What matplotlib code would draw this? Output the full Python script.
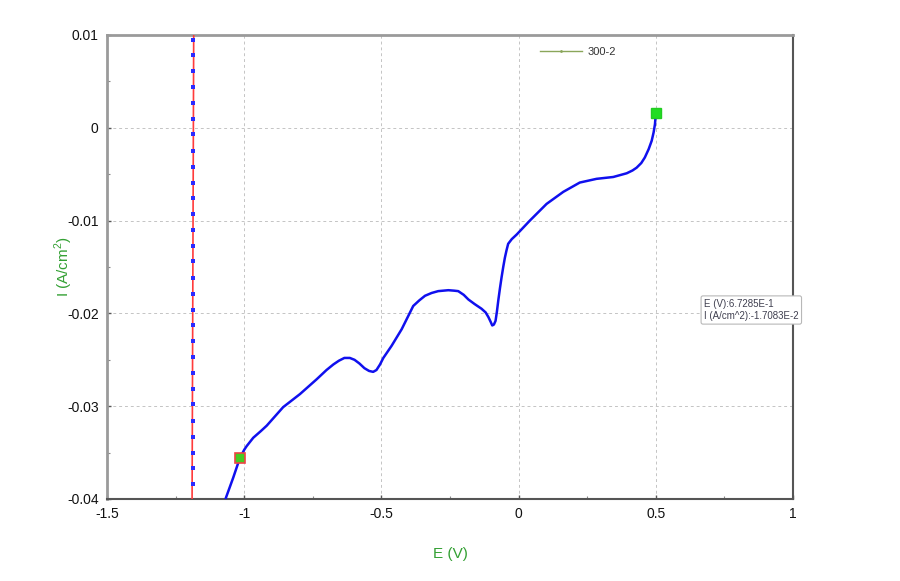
import numpy as np
import matplotlib
matplotlib.use("Agg")
import matplotlib.pyplot as plt
from matplotlib.lines import Line2D
from matplotlib.ticker import MultipleLocator

plt.rcParams['font.family'] = ['Liberation Sans', 'DejaVu Sans']
plt.rcParams['mathtext.fontset'] = 'custom'
plt.rcParams['mathtext.rm'] = 'Liberation Sans'
plt.rcParams['axes.unicode_minus'] = False

# ---- data ----
# polarisation curve (E in V, I in A/cm^2)
curve_E = [-1.080, -1.067, -1.040, -1.016, -1.000, -0.991, -0.967, -0.940, -0.918, -0.858,
           -0.797, -0.736, -0.700, -0.675, -0.655, -0.635, -0.615, -0.598, -0.580, -0.562,
           -0.545, -0.530, -0.518, -0.505, -0.493, -0.463, -0.426, -0.384, -0.362, -0.341,
           -0.317, -0.293, -0.256, -0.235, -0.220, -0.200, -0.183, -0.160, -0.135, -0.120,
           -0.110, -0.102, -0.096, -0.090, -0.084, -0.079, -0.074, -0.068, -0.062, -0.056,
           -0.050, -0.044, -0.038, -0.025, -0.007, 0.041, 0.102, 0.163, 0.223, 0.284,
           0.345, 0.394, 0.415, 0.430, 0.447, 0.460, 0.474, 0.485, 0.492, 0.497, 0.500]
curve_I = [-0.0415, -0.0399, -0.0377, -0.0356, -0.0347, -0.0343, -0.0334, -0.0327, -0.0321, -0.0301,
           -0.0287, -0.0271, -0.0261, -0.0255, -0.0251, -0.0248, -0.0248, -0.0250, -0.0254, -0.0259,
           -0.0262, -0.0263, -0.0261, -0.0255, -0.0248, -0.0235, -0.0217, -0.0192, -0.0186, -0.0181,
           -0.0178, -0.0176, -0.0175, -0.01755, -0.0176, -0.0180, -0.0185, -0.0190, -0.0195, -0.0199,
           -0.0204, -0.0209, -0.0213, -0.0212, -0.0208, -0.0198, -0.0186, -0.0173, -0.0161, -0.0150,
           -0.0140, -0.0132, -0.0125, -0.0120, -0.0115, -0.0100, -0.0082, -0.0069, -0.0059, -0.0055,
           -0.0053, -0.0049, -0.0046, -0.0043, -0.0038, -0.0032, -0.0023, -0.0014, -0.0005, 0.0004, 0.0016]

# red vertical trace with blue sample dots
red_E = [-1.184, -1.190]
red_I = [0.0105, -0.0405]
dot_E = -1.187
dot_I = [0.0095, 0.0078, 0.0061, 0.0044, 0.0027, 0.0010, -0.0007, -0.0025, -0.0042, -0.0059,
         -0.0076, -0.0093, -0.0110, -0.0127, -0.0144, -0.0162, -0.0179, -0.0196, -0.0213, -0.0230,
         -0.0247, -0.0264, -0.0281, -0.0298, -0.0316, -0.0333, -0.0350, -0.0367, -0.0384]

# cursor markers
cur1 = (-1.016, -0.0356)
cur2 = (0.500, 0.0016)

legend_label = "300-2"
tip_lines = ["E (V):6.7285E-1", "I (A/cm^2):-1.7083E-2"]

x_ticks = [-1.5, -1, -0.5, 0, 0.5, 1]
y_ticks = [0.01, 0, -0.01, -0.02, -0.03, -0.04]

# ---- figure ----
fig = plt.figure(figsize=(9, 5.81), dpi=100)
ax = fig.add_axes([107/900, 1 - 499/581, 686/900, 464/581])

ax.plot(red_E, red_I, color="#ff3b3b", lw=1.2, zorder=3)
ax.plot([dot_E] * len(dot_I), dot_I, linestyle="None", marker="s", ms=2.2, mew=0,
        color="#2b2bff", zorder=4)
ax.plot(curve_E, curve_I, color="#1010ee", lw=1.8, zorder=5,
        solid_capstyle="round", solid_joinstyle="round")

ax.plot(*cur1, marker="s", ms=7, mfc="#44cc22", mec="#ee4444", mew=1.2, zorder=6)
ax.plot(*cur2, marker="s", ms=7, mfc="#22dd22", mec="#22cc22", mew=1, zorder=6)

ax.set_xlim(-1.5, 1)
ax.set_ylim(-0.04, 0.01)
ax.set_xticks(x_ticks)
ax.set_yticks(y_ticks)
ax.set_xticklabels([f"{v:g}" for v in x_ticks])
ax.set_yticklabels([f"{v:g}" for v in y_ticks])
ax.xaxis.set_minor_locator(MultipleLocator(0.25))
ax.yaxis.set_minor_locator(MultipleLocator(0.005))
ax.tick_params(which="major", direction="in", length=3, width=1, color="#555555",
               labelsize=10, labelcolor="#111111", pad=6)
ax.tick_params(which="minor", direction="in", length=2, width=0.8, color="#888888")
ax.grid(True, which="major", linestyle=(0, (3, 3)), color="#c4c4c4", lw=0.7)

for s in ["top", "left"]:
    ax.spines[s].set_color("#9a9a9a")
    ax.spines[s].set_linewidth(2)
for s in ["bottom", "right"]:
    ax.spines[s].set_color("#555555")
    ax.spines[s].set_linewidth(1.5)

ax.set_xlabel("E (V)", color="#33a033", fontsize=11)
ax.set_ylabel("I (A/cm$^2$)", color="#33a033", fontsize=11)
ax.xaxis.set_label_coords(0.5, -0.104)
ax.yaxis.set_label_coords(-0.046, 0.5)

ax.legend([Line2D([0], [0], color="#8aa65a", lw=1, marker=".", ms=2)], [legend_label],
          loc="center left", bbox_to_anchor=(0.617, 0.963), frameon=False,
          fontsize=8, handlelength=3.8, handletextpad=0.5, labelcolor="#333333")

fig.text(704/900, 1 - 310/581, "\n".join(tip_lines), fontsize=7, color="#404050",
         va="center", ha="left", linespacing=1.3, zorder=10,
         bbox=dict(boxstyle="round,pad=0.3,rounding_size=0.2", facecolor="white",
                   edgecolor="#b8b8b8", lw=0.8))

fig.savefig("out.png", dpi=100)
